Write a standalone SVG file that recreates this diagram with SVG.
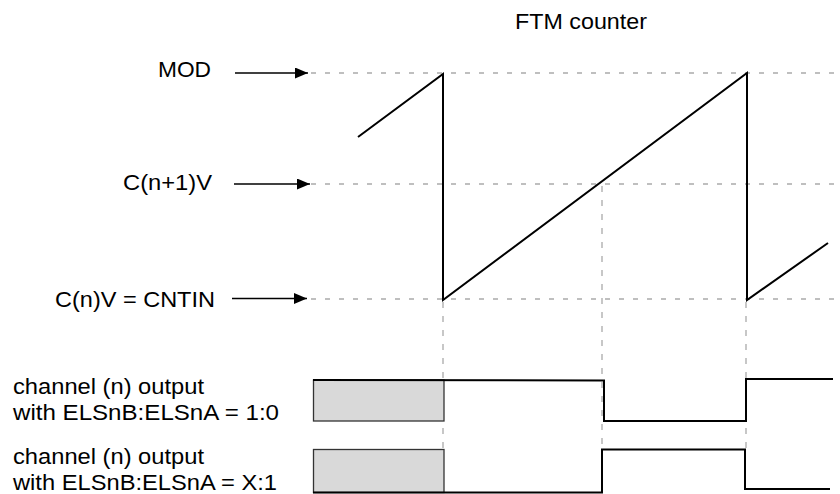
<svg xmlns="http://www.w3.org/2000/svg" width="840" height="494" viewBox="0 0 840 494">
<style>
text{font-family:"Liberation Sans",Arial,sans-serif;font-size:21.5px;fill:#000}
.grid{stroke:#aaa;stroke-width:1.3;stroke-dasharray:5 9;fill:none}
.vgrid{stroke:#aaa;stroke-width:1.3;stroke-dasharray:6 8;fill:none}
.wave{stroke:#000;stroke-width:2;fill:none;stroke-linejoin:miter}
.arrow{stroke:#000;stroke-width:1.5;fill:none}
.pre{fill:#d9d9d9;stroke:#333;stroke-width:1.3}
</style>
<defs>
<marker id="ah" markerWidth="13" markerHeight="11" refX="13" refY="5.5" orient="auto" markerUnits="userSpaceOnUse">
<path d="M0,0 L13,5.5 L0,11 Z" fill="#000"/>
</marker>
</defs>
<rect width="840" height="494" fill="#fff"/>
<g id="grid">
<line class="grid" x1="311" y1="73" x2="840" y2="73"/>
<line class="grid" x1="311" y1="184" x2="840" y2="184"/>
<line class="grid" x1="311" y1="299" x2="840" y2="299"/>
<line class="vgrid" x1="443" y1="302" x2="443" y2="449"/>
<line class="vgrid" x1="602" y1="186" x2="602" y2="449"/>
<line class="vgrid" x1="746" y1="302" x2="746" y2="449"/>
</g>
<g id="title"><text x="515" y="29" textLength="132" lengthAdjust="spacingAndGlyphs">FTM counter</text></g>
<g id="label-mod"><text x="158" y="77" textLength="53" lengthAdjust="spacingAndGlyphs">MOD</text></g>
<g id="label-cn1v"><text x="123" y="189.5" textLength="89" lengthAdjust="spacingAndGlyphs">C(n+1)V</text></g>
<g id="label-cntin"><text x="55" y="307" textLength="160" lengthAdjust="spacingAndGlyphs">C(n)V = CNTIN</text></g>
<g id="connectors">
<line class="arrow" x1="235" y1="73" x2="308" y2="73" marker-end="url(#ah)"/>
<line class="arrow" x1="234" y1="184" x2="310" y2="184" marker-end="url(#ah)"/>
<line class="arrow" x1="232" y1="298.5" x2="307" y2="298.5" marker-end="url(#ah)"/>
</g>
<g id="counter">
<path class="wave" d="M358,137 L443,74 L443,300 L747,73 L747,300 L828,243"/>
</g>
<g id="label-ch1">
<text x="13" y="394" textLength="191" lengthAdjust="spacingAndGlyphs">channel (n) output</text>
<text x="13" y="420" textLength="266" lengthAdjust="spacingAndGlyphs">with ELSnB:ELSnA = 1:0</text>
</g>
<g id="label-ch2">
<text x="13" y="464" textLength="191" lengthAdjust="spacingAndGlyphs">channel (n) output</text>
<text x="13" y="490" textLength="264" lengthAdjust="spacingAndGlyphs">with ELSnB:ELSnA = X:1</text>
</g>
<g id="ch1">
<rect class="pre" x="313.5" y="380" width="130.5" height="41"/>
<path class="wave" d="M313,380 L604,380.5 L604,421 L746,421 L746,379 L833,379"/>
</g>
<g id="ch2">
<rect class="pre" x="313.5" y="449.5" width="130.5" height="43"/>
<path class="wave" d="M313,492.5 L602,492.5 L602,449.5 L745,449.5 L745,489 L830,489"/>
</g>
</svg>
